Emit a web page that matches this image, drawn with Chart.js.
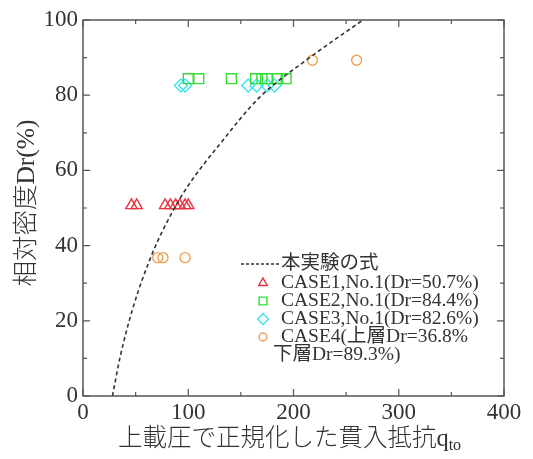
<!DOCTYPE html>
<html>
<head>
<meta charset="utf-8">
<script src="https://cdn.jsdelivr.net/npm/chart.js@4.4.1/dist/chart.umd.min.js"></script>
<style>
  html, body { margin: 0; padding: 0; background: #fff; }
  #wrap { width: 533px; height: 459px; }
</style>
</head>
<body>
<div id="wrap"><canvas id="chart" width="533" height="459"></canvas></div>
<script>
// 各ケースの測定値（q_to, Dr）
const case1Q = [46, 51, 78, 83, 88, 92, 97, 100];
const case1Dr = [50.7, 50.7, 50.7, 50.7, 50.7, 50.7, 50.7, 50.7];
const case2Q = [100, 110, 141, 164, 170, 175, 185, 193];
const case2Dr = [84.4, 84.4, 84.4, 84.4, 84.4, 84.4, 84.4, 84.4];
const case3Q = [93, 97, 157, 165, 175, 182];
const case3Dr = [82.6, 82.6, 82.6, 82.6, 82.6, 82.6];
const case4Q = [71, 76, 97, 218, 260];
const case4Dr = [36.8, 36.8, 36.8, 89.3, 89.3];

// 本実験の式（曲線上の点）
const fitQ = [28, 35, 47, 66, 85, 100, 130, 168, 213, 266];
const fitDr = [0, 10, 23, 38, 49, 56, 67, 79.5, 89.5, 100];

const xTicks = [0, 100, 200, 300, 400];
const yTicks = [0, 20, 40, 60, 80, 100];

const legendLabels = [
  '本実験の式',
  'CASE1,No.1(Dr=50.7%)',
  'CASE2,No.1(Dr=84.4%)',
  'CASE3,No.1(Dr=82.6%)',
  'CASE4(上層Dr=36.8%',
  '下層Dr=89.3%)'
];
const yTitle = '相対密度Dr(%)';
const xTitle = '上載圧で正規化した貫入抵抗q';
const xTitleSub = 'to';

const FONT = '"Liberation Serif", "Noto Sans CJK JP", serif';
const TEXT = '#333';
const AXIS = '#555';

const colors = {
  c1: 'rgb(232, 52, 64)',
  c2: 'rgb(52, 220, 52)',
  c3: 'rgb(64, 226, 240)',
  c4: 'rgb(240, 160, 80)'
};

const toPoints = (xs, ys) => xs.map((x, i) => ({ x, y: ys[i] }));

// 枠・内向き目盛・タイトル・凡例を描くプラグイン
const framePlugin = {
  id: 'frame',
  afterDraw(chart) {
    const { ctx, chartArea: a, scales } = chart;
    const xs = scales.x, ys = scales.y;
    ctx.save();
    ctx.strokeStyle = AXIS;
    ctx.lineWidth = 1.5;
    ctx.strokeRect(a.left, a.top, a.right - a.left, a.bottom - a.top);

    ctx.lineWidth = 1.2;
    ctx.beginPath();
    for (let v = 0; v <= 400; v += 50) {
      const len = v % 100 === 0 ? 7 : 4;
      const px = xs.getPixelForValue(v);
      ctx.moveTo(px, a.bottom); ctx.lineTo(px, a.bottom - len);
      ctx.moveTo(px, a.top); ctx.lineTo(px, a.top + len);
    }
    for (let v = 0; v <= 100; v += 10) {
      const len = v % 20 === 0 ? 7 : 4;
      const py = ys.getPixelForValue(v);
      ctx.moveTo(a.left, py); ctx.lineTo(a.left + len, py);
      ctx.moveTo(a.right, py); ctx.lineTo(a.right - len, py);
    }
    ctx.stroke();

    // 軸タイトル
    ctx.fillStyle = TEXT;
    ctx.textBaseline = 'middle';
    ctx.font = '300 24.5px ' + FONT;
    const mainW = ctx.measureText(xTitle).width;
    ctx.font = '16px ' + FONT;
    const subW = ctx.measureText(xTitleSub).width;
    const cx = (a.left + a.right) / 2 - 4;
    const tx = cx - (mainW + subW) / 2;
    ctx.font = '300 24.5px ' + FONT;
    ctx.textAlign = 'left';
    ctx.fillText(xTitle, tx, 440);
    ctx.font = '16px ' + FONT;
    ctx.fillText(xTitleSub, tx + mainW, 446);

    ctx.save();
    ctx.translate(27, 203);
    ctx.rotate(-Math.PI / 2);
    ctx.textAlign = 'center';
    ctx.font = '300 25.5px ' + FONT;
    ctx.fillText(yTitle, 0, 0);
    ctx.restore();

    // 凡例
    const lx = 263, tx0 = 281, rows = [264, 283, 301, 319, 337, 355];
    ctx.font = '19.5px ' + FONT;
    ctx.textAlign = 'left';
    ctx.strokeStyle = '#333';
    ctx.lineWidth = 1.3;
    ctx.setLineDash([3, 2]);
    ctx.beginPath();
    ctx.moveTo(241, rows[0]); ctx.lineTo(281, rows[0]);
    ctx.stroke();
    ctx.setLineDash([]);
    ctx.fillText(legendLabels[0], tx0, rows[0]);
    const marks = [
      ['triangle', colors.c1, 5],
      ['rect', colors.c2, 5.5],
      ['rectRot', colors.c3, 5.5],
      ['circle', colors.c4, 4]
    ];
    marks.forEach((m, i) => {
      ctx.strokeStyle = m[1];
      ctx.fillStyle = 'rgba(0,0,0,0)';
      ctx.lineWidth = 1.4;
      Chart.helpers.drawPoint(ctx, { pointStyle: m[0], radius: m[2], borderWidth: 1.4 }, lx, rows[i + 1]);
      ctx.fillStyle = TEXT;
      ctx.fillText(legendLabels[i + 1], tx0, rows[i + 1]);
    });
    ctx.fillText(legendLabels[5], 273, rows[5]);
    ctx.restore();
  }
};

const scatterSet = (label, xs, ys, style, color, r) => ({
  label,
  data: toPoints(xs, ys),
  showLine: false,
  pointStyle: style,
  pointRadius: r,
  pointBorderWidth: 1.4,
  pointBorderColor: color,
  pointBackgroundColor: 'rgba(0,0,0,0)'
});

new Chart(document.getElementById('chart'), {
  type: 'scatter',
  data: {
    datasets: [
      {
        label: legendLabels[0],
        data: toPoints(fitQ, fitDr),
        showLine: true,
        borderColor: '#333',
        borderWidth: 1.6,
        borderDash: [4, 3],
        pointRadius: 0,
        cubicInterpolationMode: 'monotone',
        fill: false
      },
      scatterSet(legendLabels[1], case1Q, case1Dr, 'triangle', colors.c1, 6.5),
      scatterSet(legendLabels[2], case2Q, case2Dr, 'rect', colors.c2, 7),
      scatterSet(legendLabels[3], case3Q, case3Dr, 'rectRot', colors.c3, 6.5),
      scatterSet(legendLabels[4], case4Q, case4Dr, 'circle', colors.c4, 5)
    ]
  },
  options: {
    responsive: false,
    animation: false,
    layout: { padding: { left: 0, top: 20, right: 29, bottom: 0 } },
    plugins: {
      legend: { display: false },
      tooltip: { enabled: false }
    },
    scales: {
      x: {
        type: 'linear',
        min: 0,
        max: 400,
        afterFit: s => { s.height = 63; },
        afterBuildTicks: s => { s.ticks = xTicks.map(v => ({ value: v })); },
        grid: { display: false, drawTicks: false },
        border: { display: false },
        ticks: { padding: 3, color: TEXT, font: { family: FONT, size: 23 }, maxRotation: 0 }
      },
      y: {
        type: 'linear',
        min: 0,
        max: 100,
        afterFit: s => { s.width = 83; },
        afterBuildTicks: s => { s.ticks = yTicks.map(v => ({ value: v })); },
        grid: { display: false, drawTicks: false },
        border: { display: false },
        ticks: { padding: 5, color: TEXT, font: { family: FONT, size: 23 } }
      }
    }
  },
  plugins: [framePlugin]
});
</script>
</body>
</html>
